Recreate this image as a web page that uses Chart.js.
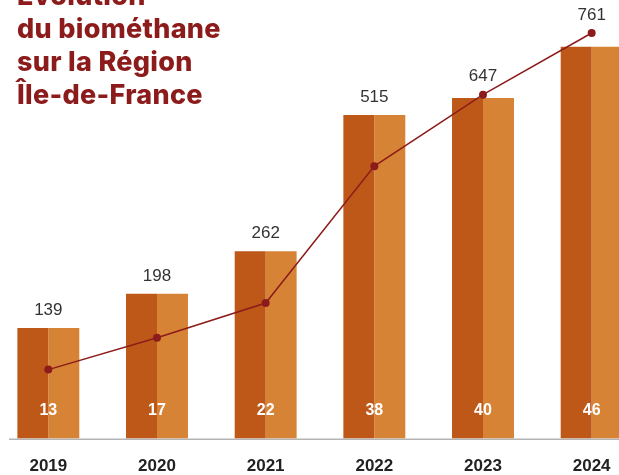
<!DOCTYPE html>
<html>
<head>
<meta charset="utf-8">
<script src="https://cdn.jsdelivr.net/npm/chart.js@4/dist/chart.umd.min.js"></script>
<style>
  html, body { margin: 0; padding: 0; background: #fff; overflow: hidden; width: 619px; height: 475px; }
  #wrap { position: absolute; left: -6px; top: 0; width: 652px; height: 495px; }
  #title { position: absolute; left: 17px; top: -21px; font-family: Inter, "Noto Sans", sans-serif; font-weight: 800;
           font-size: 27px; line-height: 33px; color: #8c1c1c; letter-spacing: 0.3px; z-index: 2; }
</style>
</head>
<body>
<div id="wrap"><canvas id="c"></canvas></div>
<div id="title">Évolution<br>du biométhane<br>sur la Région<br>Île-de-France</div>
<script>
const years = ['2019', '2020', '2021', '2022', '2023', '2024'];
const sites = [13, 17, 22, 38, 40, 46];
const capacity = [139, 198, 262, 515, 647, 761];

const darkOrange = '#bd5818';
const lightOrange = '#d78335';
const lineRed = '#8c1c1c';

const baselinePlugin = {
  id: 'baseline',
  beforeDatasetsDraw(chart) {
    const { ctx, chartArea } = chart;
    ctx.save();
    ctx.strokeStyle = '#b4b4b4';
    ctx.lineWidth = 1.5;
    ctx.beginPath();
    ctx.moveTo(chartArea.left + 15, chartArea.bottom + 0.6);
    ctx.lineTo(chartArea.right, chartArea.bottom + 0.6);
    ctx.stroke();
    ctx.restore();
  }
};

const labelPlugin = {
  id: 'labels',
  afterDatasetsDraw(chart) {
    const { ctx, chartArea, scales } = chart;
    ctx.save();
    ctx.textAlign = 'center';
    ctx.textBaseline = 'middle';
    years.forEach((yr, i) => {
      const x = scales.x.getPixelForValue(i);
      const barTop = scales.y.getPixelForValue(sites[i]);
      const pt = scales.y1.getPixelForValue(capacity[i]);
      const top = Math.min(barTop, pt);
      ctx.fillStyle = '#333333';
      ctx.font = '17px "Liberation Sans", Arial, sans-serif';
      ctx.fillText(String(capacity[i]), x, top - 18);
      ctx.fillStyle = '#ffffff';
      ctx.font = 'bold 16px "Liberation Sans", Arial, sans-serif';
      ctx.fillText(String(sites[i]), x, chartArea.bottom - 28);
    });
    ctx.restore();
  }
};

new Chart(document.getElementById('c'), {
  data: {
    labels: years,
    datasets: [
      { type: 'line', data: capacity, yAxisID: 'y1', borderColor: lineRed, backgroundColor: lineRed,
        borderWidth: 1.5, pointRadius: 4, pointHoverRadius: 4, pointBackgroundColor: lineRed,
        pointBorderWidth: 0, tension: 0, order: 0 },
      { type: 'bar', data: sites, yAxisID: 'y', backgroundColor: darkOrange, borderWidth: 0,
        barPercentage: 1, categoryPercentage: 0.57, order: 1 },
      { type: 'bar', data: sites, yAxisID: 'y', backgroundColor: lightOrange, borderWidth: 0,
        barPercentage: 1, categoryPercentage: 0.57, order: 1 }
    ]
  },
  options: {
    responsive: true,
    maintainAspectRatio: false,
    animation: false,
    layout: { autoPadding: false, padding: { top: 0, bottom: 0, left: 0, right: 0 } },
    plugins: { legend: { display: false }, tooltip: { enabled: false } },
    scales: {
      x: {
        offset: true,
        grid: { display: false, drawTicks: false },
        border: { display: false },
        ticks: { color: '#222222', padding: 18,
                 font: { family: '"Liberation Sans", Arial, sans-serif', size: 17, weight: 'bold', lineHeight: 1.2 } }
      },
      y: { display: false, min: 0, max: 51.5 },
      y1: { display: false, min: 11.5, max: 822 }
    }
  },
  plugins: [baselinePlugin, labelPlugin]
});
</script>
</body>
</html>
